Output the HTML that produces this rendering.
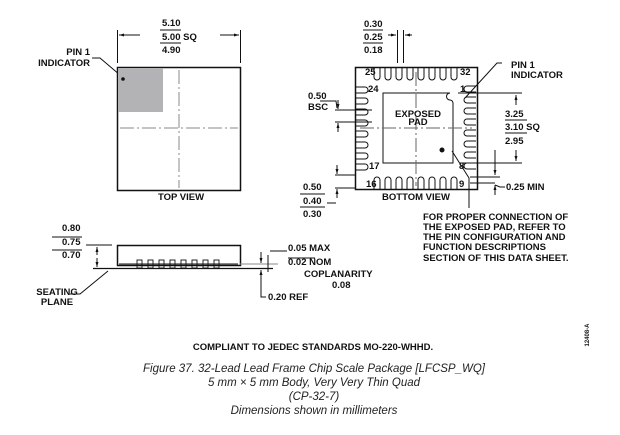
<!DOCTYPE html>
<html><head><style>
body{margin:0;background:#fff;width:620px;height:430px;overflow:hidden}
svg text{font-family:"Liberation Sans",Arial,sans-serif;font-weight:bold;font-size:9.5px;fill:#111}
.c{font-family:"Liberation Sans",sans-serif;font-weight:normal;font-style:italic;font-size:11.5px;fill:#222}
</style></head><body>
<svg width="620" height="430" viewBox="0 0 620 430" xmlns="http://www.w3.org/2000/svg">
<defs>
<marker id="a" viewBox="0 0 10 10" refX="10" refY="5" markerWidth="5" markerHeight="5" orient="auto"><path d="M0,2L10,5L0,8z" fill="#111"/></marker>
</defs>
<g stroke="#111" fill="none" stroke-width="1">
<!-- top view -->
<rect x="117.5" y="67.5" width="123" height="123" stroke-width="1.5"/>
<line x1="179" y1="70" x2="179" y2="188" stroke="#888" stroke-dasharray="14,3,2,3"/>
<line x1="120" y1="128" x2="238" y2="128" stroke="#888" stroke-dasharray="14,3,2,3"/>
<line x1="117.5" y1="30" x2="117.5" y2="63"/>
<line x1="240.5" y1="30" x2="240.5" y2="63"/>
<line x1="140" y1="35" x2="119" y2="35" marker-end="url(#a)"/>
<line x1="220" y1="35" x2="239" y2="35" marker-end="url(#a)"/>
<line x1="160" y1="30" x2="181" y2="30"/>
<line x1="160" y1="43" x2="181" y2="43"/>
<polyline points="92,58 100,58 120,75"/>
<!-- bottom view -->
<rect x="355.5" y="67.5" width="122" height="122" stroke-width="1.5"/>
<path d="M383,93 H450 a3.5,3.5 0 0 0 0,7 a3.5 3.5 0 0 1 3,3 V163 H383 Z"/>
<line x1="416" y1="72" x2="416" y2="186" stroke="#666" stroke-dasharray="14,3,2,3"/>
<line x1="360" y1="128" x2="472" y2="128" stroke="#666" stroke-dasharray="14,3,2,3"/>
<g id="tp">
<path d="M374,68 V77 a3,3 0 0 0 6,0 V68"/><path d="M385,68 V77 a3,3 0 0 0 6,0 V68"/><path d="M396,68 V77 a3,3 0 0 0 6,0 V68"/><path d="M407,68 V77 a3,3 0 0 0 6,0 V68"/><path d="M418,68 V77 a3,3 0 0 0 6,0 V68"/><path d="M429,68 V77 a3,3 0 0 0 6,0 V68"/><path d="M440,68 V77 a3,3 0 0 0 6,0 V68"/><path d="M451,68 V77 a3,3 0 0 0 6,0 V68"/>
</g>
<use href="#tp" transform="translate(0,257) scale(1,-1)"/>
<use href="#tp" transform="translate(416,128) rotate(90) translate(-416,-128)"/>
<use href="#tp" transform="translate(416,128) rotate(-90) translate(-416,-128)"/>
<line x1="397.5" y1="30" x2="397.5" y2="63"/><line x1="403.5" y1="30" x2="403.5" y2="63"/>
<line x1="388" y1="35" x2="396" y2="35" marker-end="url(#a)"/><line x1="412" y1="35" x2="405" y2="35" marker-end="url(#a)"/>
<line x1="363" y1="30" x2="383" y2="30"/><line x1="363" y1="43" x2="383" y2="43"/>
<line x1="458" y1="93" x2="522" y2="93"/><line x1="460" y1="163" x2="522" y2="163"/>
<line x1="516" y1="105" x2="516" y2="95" marker-end="url(#a)"/><line x1="516" y1="150" x2="516" y2="161" marker-end="url(#a)"/>
<line x1="505" y1="120" x2="527" y2="120"/><line x1="505" y1="133" x2="527" y2="133"/>
<polyline points="502,63 497,63 465,98"/>
<line x1="470" y1="177" x2="500" y2="177"/><line x1="470" y1="183" x2="495" y2="183"/>
<line x1="495" y1="150" x2="495" y2="175" marker-end="url(#a)"/>
<line x1="495" y1="195" x2="495" y2="185" marker-end="url(#a)"/>
<polyline points="495,185 500,187 505,187"/>
<line x1="335" y1="110" x2="372" y2="110"/><line x1="335" y1="122" x2="372" y2="122"/>
<polyline points="320,101 336,101 337,108"/><line x1="338" y1="100" x2="338" y2="109" marker-end="url(#a)"/>
<line x1="338" y1="132" x2="338" y2="123" marker-end="url(#a)"/>
<line x1="335" y1="175" x2="356" y2="175"/><line x1="335" y1="188" x2="356" y2="188"/>
<line x1="337" y1="165" x2="337" y2="174" marker-end="url(#a)"/>
<line x1="337" y1="198" x2="337" y2="189" marker-end="url(#a)"/>
<line x1="327" y1="203" x2="336" y2="203"/>
<line x1="300" y1="194" x2="325" y2="194"/><line x1="300" y1="207" x2="325" y2="207"/>
<polyline points="452,151 469,178 469,208"/>
<!-- side view -->
<rect x="117.5" y="245.5" width="123" height="20" stroke-width="1.5"/>
<line x1="93" y1="268.5" x2="273" y2="268.5" stroke-width="1.3"/>
<g stroke-width="0.9">
<rect x="137" y="260" width="5" height="8"/><rect x="148" y="260" width="5" height="8"/><rect x="159" y="260" width="5" height="8"/><rect x="170" y="260" width="5" height="8"/><rect x="181" y="260" width="5" height="8"/><rect x="192" y="260" width="5" height="8"/><rect x="203" y="260" width="5" height="8"/><rect x="214" y="260" width="5" height="8"/>
<line x1="119" y1="264" x2="238" y2="264"/>
</g>
<line x1="240" y1="264" x2="278" y2="264" stroke="#888"/>
<polyline points="86,245 112,245"/>
<line x1="52" y1="237" x2="82" y2="237"/><line x1="52" y1="250" x2="82" y2="250"/>
<line x1="97" y1="255" x2="97" y2="247" marker-end="url(#a)"/><line x1="97" y1="258" x2="97" y2="267" marker-end="url(#a)"/>
<polyline points="70,294 80,294 108,271"/>
<line x1="261" y1="252" x2="261" y2="263" marker-end="url(#a)"/>
<line x1="261" y1="282" x2="261" y2="270" marker-end="url(#a)"/>
<polyline points="261,280 261,297 266,297"/>
<line x1="268" y1="255" x2="268" y2="272"/>
<polyline points="270,251 287,251"/>
<line x1="288" y1="258" x2="315" y2="258"/>
</g>
<rect x="118" y="68" width="45" height="44" fill="#b3b3b6"/>
<circle cx="123" cy="79" r="1.8" fill="#111"/>
<circle cx="442" cy="150" r="2.5" fill="#111"/>
<!-- texts -->
<text x="162" y="26">5.10</text><text x="162" y="40">5.00 SQ</text><text x="162" y="53">4.90</text>
<text x="90" y="55" text-anchor="end">PIN 1</text><text x="90" y="66" text-anchor="end">INDICATOR</text>
<text x="181" y="200" text-anchor="middle">TOP VIEW</text>
<text x="364" y="27">0.30</text><text x="364" y="40">0.25</text><text x="364" y="53">0.18</text>
<text x="511" y="68">PIN 1</text><text x="511" y="78">INDICATOR</text>
<text x="505" y="117">3.25</text><text x="505" y="130">3.10 SQ</text><text x="505" y="144">2.95</text>
<text x="506" y="190">0.25 MIN</text>
<text x="308" y="99">0.50</text><text x="308" y="110">BSC</text>
<text x="303" y="190">0.50</text><text x="303" y="204">0.40</text><text x="303" y="217">0.30</text>
<text x="416" y="200" text-anchor="middle">BOTTOM VIEW</text>
<g style="font-size:7px;font-weight:normal">
<text x="418" y="117" text-anchor="middle">EXPOSED</text><text x="418" y="125" text-anchor="middle">PAD</text>
<text x="365" y="75">25</text><text x="460" y="75">32</text><text x="368" y="92">24</text><text x="460" y="92">1</text>
<text x="369" y="169">17</text><text x="459" y="169">8</text><text x="366" y="187">16</text><text x="459" y="187">9</text>
</g>
<text x="423" y="220">FOR PROPER CONNECTION OF</text>
<text x="423" y="230">THE EXPOSED PAD, REFER TO</text>
<text x="423" y="240">THE PIN CONFIGURATION AND</text>
<text x="423" y="250">FUNCTION DESCRIPTIONS</text>
<text x="423" y="261">SECTION OF THIS DATA SHEET.</text>
<text x="62" y="231">0.80</text><text x="62" y="245">0.75</text><text x="62" y="258">0.70</text>
<text x="288" y="251">0.05 MAX</text><text x="288" y="265">0.02 NOM</text>
<text x="304" y="277">COPLANARITY</text><text x="332" y="288">0.08</text>
<text x="268" y="300">0.20 REF</text>
<text x="57" y="295" text-anchor="middle">SEATING</text><text x="57" y="305" text-anchor="middle">PLANE</text>
<text x="313" y="350" text-anchor="middle">COMPLIANT TO JEDEC STANDARDS MO-220-WHHD.</text>
<text x="589" y="335" transform="rotate(-90 589 335)" text-anchor="middle" style="font-size:6px">12408-A</text>
<text class="c" x="314" y="372" text-anchor="middle">Figure 37. 32-Lead Lead Frame Chip Scale Package [LFCSP_WQ]</text>
<text class="c" x="314" y="386" text-anchor="middle">5 mm × 5 mm Body, Very Very Thin Quad</text>
<text class="c" x="314" y="400" text-anchor="middle">(CP-32-7)</text>
<text class="c" x="314" y="414" text-anchor="middle">Dimensions shown in millimeters</text>
</svg>
</body></html>
